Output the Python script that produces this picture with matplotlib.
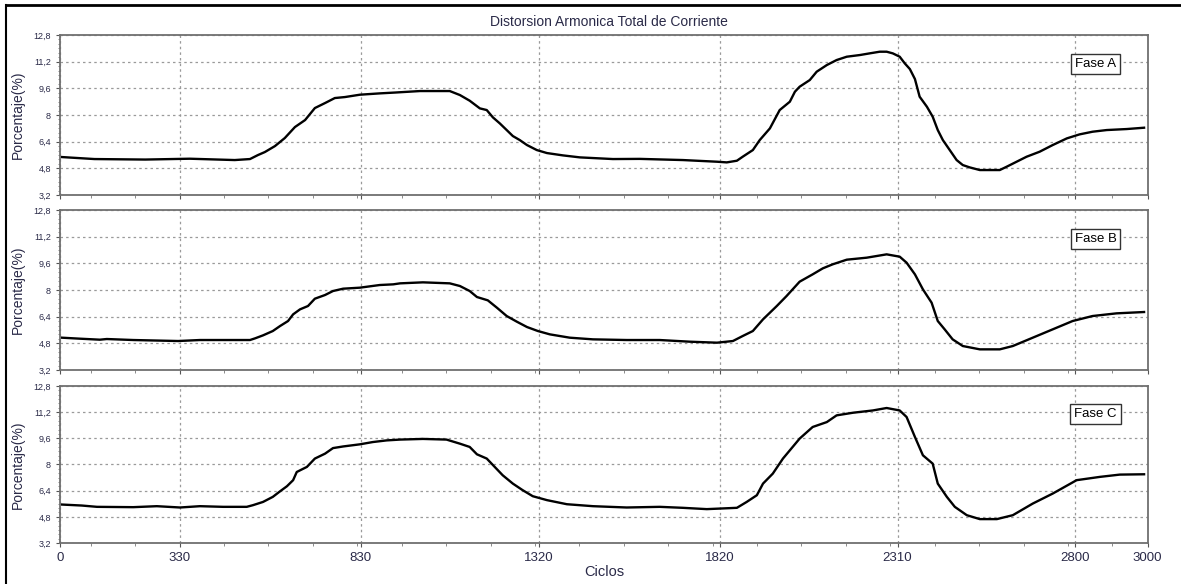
import numpy as np
import matplotlib
matplotlib.use('Agg')
import matplotlib.pyplot as plt
from matplotlib.lines import Line2D

plt.rcParams['font.family'] = ['Liberation Sans', 'DejaVu Sans']

# Datos (ciclos, porcentaje)
x_a = [5, 50, 95, 235, 358, 482, 524, 546, 565, 593, 620, 648, 676, 703, 731, 758, 786,
       827, 882, 924, 993, 1075, 1103, 1130, 1158, 1177, 1194, 1213, 1232, 1249, 1268,
       1288, 1315, 1343, 1387, 1434, 1525, 1599, 1718, 1812, 1839, 1867, 1883, 1911, 1930,
       1958, 1985, 2013, 2027, 2040, 2068, 2087, 2115, 2142, 2170, 2206, 2233, 2261, 2280,
       2297, 2316, 2330, 2344, 2358, 2371, 2391, 2407, 2421, 2435, 2454, 2473, 2490, 2509,
       2537, 2592, 2611, 2666, 2702, 2738, 2777, 2812, 2848, 2887, 2942, 2990]
fase_a = [5.48, 5.42, 5.36, 5.33, 5.38, 5.30, 5.36, 5.6, 5.78, 6.14, 6.62, 7.28, 7.7, 8.42,
          8.72, 9.02, 9.08, 9.22, 9.3, 9.35, 9.44, 9.44, 9.2, 8.86, 8.4, 8.3, 7.86, 7.5, 7.1,
          6.74, 6.5, 6.2, 5.9, 5.72, 5.58, 5.46, 5.36, 5.37, 5.3, 5.2, 5.16, 5.26, 5.5, 5.9,
          6.5, 7.2, 8.3, 8.8, 9.4, 9.7, 10.1, 10.6, 11.0, 11.3, 11.5, 11.6, 11.7, 11.8, 11.8,
          11.7, 11.5, 11.1, 10.76, 10.16, 9.1, 8.5, 7.9, 7.1, 6.5, 5.9, 5.3, 5.0, 4.86, 4.7,
          4.7, 4.9, 5.5, 5.8, 6.2, 6.6, 6.84, 7.0, 7.1, 7.16, 7.24]

x_b = [5, 55, 110, 129, 202, 326, 386, 524, 538, 560, 587, 607, 629, 643, 662, 684, 703,
       731, 753, 781, 827, 882, 919, 938, 1001, 1075, 1103, 1130, 1150, 1180, 1205, 1232,
       1260, 1288, 1318, 1351, 1406, 1470, 1563, 1654, 1737, 1812, 1856, 1883, 1911, 1939,
       1977, 2004, 2040, 2076, 2104, 2131, 2170, 2225, 2280, 2316, 2335, 2358, 2380, 2404,
       2421, 2440, 2462, 2490, 2537, 2592, 2628, 2683, 2738, 2793, 2848, 2914, 2990]
fase_b = [5.14, 5.08, 5.02, 5.06, 5.0, 4.94, 5.0, 5.0, 5.1, 5.28, 5.54, 5.84, 6.14, 6.54,
          6.84, 7.04, 7.48, 7.7, 7.94, 8.08, 8.14, 8.3, 8.34, 8.4, 8.46, 8.4, 8.24, 7.94,
          7.58, 7.38, 6.94, 6.44, 6.1, 5.78, 5.54, 5.34, 5.14, 5.04, 5.0, 5.0, 4.9, 4.84,
          4.94, 5.24, 5.54, 6.24, 7.04, 7.64, 8.5, 8.94, 9.3, 9.54, 9.82, 9.94, 10.14, 10.0,
          9.64, 8.94, 8.04, 7.24, 6.14, 5.64, 5.04, 4.64, 4.44, 4.44, 4.64, 5.14, 5.64, 6.14,
          6.44, 6.6, 6.68]

x_c = [5, 60, 102, 202, 267, 331, 386, 450, 515, 532, 560, 587, 607, 626, 643, 653, 681,
       703, 731, 753, 781, 827, 863, 901, 938, 1001, 1066, 1103, 1130, 1150, 1177, 1199,
       1221, 1249, 1276, 1304, 1343, 1398, 1470, 1563, 1654, 1718, 1784, 1867, 1894, 1922,
       1939, 1966, 1994, 2040, 2076, 2115, 2142, 2187, 2242, 2280, 2316, 2335, 2358, 2380,
       2407, 2421, 2446, 2468, 2501, 2537, 2584, 2628, 2683, 2738, 2804, 2868, 2923, 2990]
fase_c = [5.55, 5.49, 5.41, 5.39, 5.45, 5.37, 5.45, 5.41, 5.41, 5.51, 5.71, 6.02, 6.36,
          6.67, 7.04, 7.54, 7.85, 8.36, 8.66, 9.0, 9.1, 9.23, 9.37, 9.47, 9.52, 9.56, 9.52,
          9.27, 9.07, 8.62, 8.36, 7.85, 7.34, 6.83, 6.43, 6.06, 5.82, 5.57, 5.45, 5.37,
          5.41, 5.35, 5.27, 5.35, 5.71, 6.12, 6.83, 7.44, 8.36, 9.58, 10.29, 10.59, 11.0,
          11.16, 11.3, 11.45, 11.3, 10.9, 9.68, 8.56, 8.05, 6.83, 6.02, 5.41, 4.9, 4.66,
          4.66, 4.9, 5.61, 6.22, 7.04, 7.24, 7.38, 7.4]

x_ticks = [0, 330, 830, 1320, 1820, 2310, 2800, 3000]
y_ticks = [3.2, 4.8, 6.4, 8, 9.6, 11.2, 12.8]
y_labels = ['3,2', '4,8', '6,4', '8', '9,6', '11,2', '12,8']
fases = ['Fase A', 'Fase B', 'Fase C']

color_txt = '#2a2a48'

fig = plt.figure(figsize=(11.81, 5.84), dpi=100)

# posicion de cada panel [izq, abajo, ancho, alto]
posiciones = [[0.0508, 0.666, 0.921, 0.274],
              [0.0508, 0.3664, 0.921, 0.274],
              [0.0508, 0.0702, 0.921, 0.269]]
series = [(x_a, fase_a), (x_b, fase_b), (x_c, fase_c)]

for i in range(3):
    ax = fig.add_axes(posiciones[i])
    xs, ys = series[i]
    ax.plot(xs, ys, color='black', lw=1.7)
    ax.set_xlim(0, 3000)
    ax.set_ylim(3.2, 12.8)
    ax.set_xticks(x_ticks)
    ax.set_xticks(np.arange(85, 3000, 122.5), minor=True)
    ax.set_yticks(y_ticks)
    ax.set_yticklabels(y_labels)
    ax.set_yticks(np.arange(3.2, 12.8, 1.6 / 6), minor=True)
    ax.grid(True, which='major', linestyle=(0, (2, 2.5)), color='#9a9a9a', lw=0.9)
    ax.tick_params(axis='y', labelsize=6.5, labelcolor=color_txt, length=3, color='#555555')
    ax.tick_params(axis='y', which='minor', length=1.5, color='#777777')
    ax.tick_params(axis='x', labelsize=9.5, labelcolor=color_txt, length=3, color='#555555')
    ax.tick_params(axis='x', which='minor', length=2, color='#777777')
    for s in ax.spines.values():
        s.set_color('#707070')
        s.set_linewidth(1.3)
    ax.set_ylabel('Porcentaje(%)', fontsize=10, color=color_txt)
    ax.yaxis.set_label_coords(-0.032, 0.5)
    ax.text(0.952, 0.82, fases[i], transform=ax.transAxes, ha='center', va='center',
            fontsize=9.5, color='black',
            bbox=dict(boxstyle='square,pad=0.3', fc='white', ec='#333333', lw=1))
    if i < 2:
        ax.set_xticklabels([])
    else:
        ax.set_xlabel('Ciclos', fontsize=10.5, color=color_txt, labelpad=1)

fig.text(0.516, 0.963, 'Distorsion Armonica Total de Corriente', ha='center', va='center',
         fontsize=10, color=color_txt)

# borde superior e izquierdo
fig.add_artist(Line2D([0.005, 1.0], [0.992, 0.992], color='black', lw=2, transform=fig.transFigure))
fig.add_artist(Line2D([0.005, 0.005], [0.0, 0.992], color='black', lw=1.5, transform=fig.transFigure))

plt.savefig('out.png', dpi=100)
